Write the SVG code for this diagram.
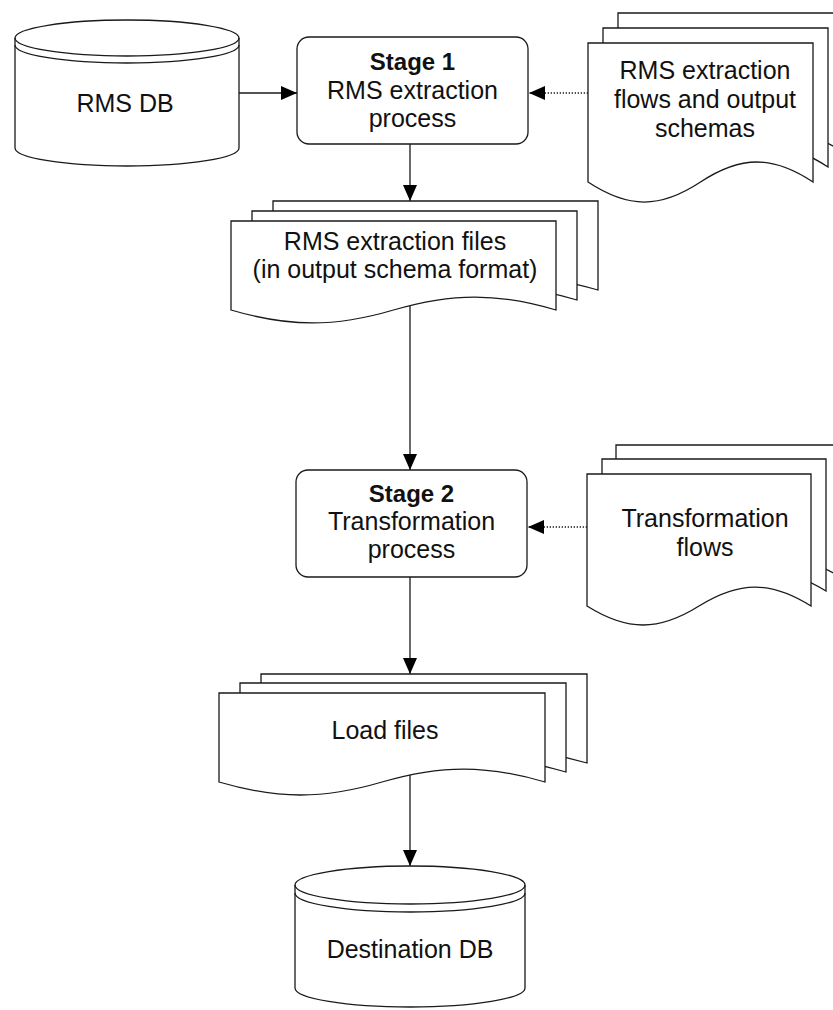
<svg xmlns="http://www.w3.org/2000/svg" xmlns:xlink="http://www.w3.org/1999/xlink" width="833" height="1010" viewBox="0 0 833 1010">
<style>
.shape{fill:#fff;stroke:#1a1a1a;stroke-width:1.3}
.line{fill:none;stroke:#1a1a1a;stroke-width:1.3}
.dot{fill:none;stroke:#1a1a1a;stroke-width:1.3;stroke-dasharray:1.3 1.7}
.t{font-family:"Liberation Sans",Arial,sans-serif;font-size:25px;fill:#111;text-anchor:middle}
.b{font-weight:bold;font-size:24px}
</style>
<defs>
<marker id="ah" markerWidth="16" markerHeight="14" refX="16" refY="7" orient="auto" markerUnits="userSpaceOnUse">
<path d="M0,0 L16,7 L0,14 Z" fill="#000"/>
</marker>
<path id="doc1" class="shape" d="M588,182 L588,43 L813,43 L813,182 C772.5,155.3 741,155.3 700.5,182 C660,208.7 628.5,208.7 588,182 Z"/>
<path id="doc2" class="shape" d="M231,310 L231,221 L556,221 L556,310 C497.5,292.7 452,292.7 393.5,310 C335,327.3 289.5,327.3 231,310 Z"/>
<path id="doc3" class="shape" d="M587,606 L587,474 L811,474 L811,606 C770.7,580.7 739.3,580.7 699,606 C658.7,631.3 627.3,631.3 587,606 Z"/>
<path id="doc4" class="shape" d="M219,782 L219,693 L545,693 L545,782 C486.3,764.7 440.7,764.7 382,782 C323.3,799.3 277.7,799.3 219,782 Z"/>
</defs>

<g id="connectors">
<line class="line" x1="239" y1="93" x2="297" y2="93" marker-end="url(#ah)"/>
<line class="dot" x1="588" y1="93" x2="529" y2="93" marker-end="url(#ah)"/>
<line class="line" x1="410" y1="144" x2="410" y2="201" marker-end="url(#ah)"/>
<line class="line" x1="410" y1="306" x2="410" y2="470" marker-end="url(#ah)"/>
<line class="dot" x1="587" y1="527" x2="528" y2="527" marker-end="url(#ah)"/>
<line class="line" x1="410" y1="577" x2="410" y2="674" marker-end="url(#ah)"/>
<line class="line" x1="410" y1="775" x2="410" y2="866" marker-end="url(#ah)"/>
</g>

<g id="rms-db">
<path class="shape" d="M15,38 A112,18 0 0 1 239,38 L239,148 A112,18 0 0 1 15,148 Z"/>
<path class="line" d="M15,38 A112,18 0 0 0 239,38"/>
<path class="line" d="M15,45 A112,18 0 0 0 239,45"/>
<text class="t" x="125" y="112">RMS DB</text>
</g>

<g id="stage1">
<rect class="shape" x="297" y="37" width="231" height="107" rx="12" ry="12"/>
<text class="t b" x="412.5" y="70">Stage 1</text>
<text class="t" x="412.5" y="99">RMS extraction</text>
<text class="t" x="412.5" y="127">process</text>
</g>

<g id="extraction-flows">
<use xlink:href="#doc1" transform="translate(30,-30)"/>
<use xlink:href="#doc1" transform="translate(15,-15)"/>
<use xlink:href="#doc1"/>
<text class="t" x="705" y="79">RMS extraction</text>
<text class="t" x="705" y="108">flows and output</text>
<text class="t" x="705" y="137">schemas</text>
</g>

<g id="extraction-files">
<use xlink:href="#doc2" transform="translate(42,-20)"/>
<use xlink:href="#doc2" transform="translate(21,-10)"/>
<use xlink:href="#doc2"/>
<text class="t" x="395" y="250">RMS extraction files</text>
<text class="t" x="395" y="278">(in output schema format)</text>
</g>

<g id="stage2">
<rect class="shape" x="296" y="470" width="231" height="107" rx="12" ry="12"/>
<text class="t b" x="411.5" y="502">Stage 2</text>
<text class="t" x="411.5" y="530">Transformation</text>
<text class="t" x="411.5" y="558">process</text>
</g>

<g id="transformation-flows">
<use xlink:href="#doc3" transform="translate(29,-29)"/>
<use xlink:href="#doc3" transform="translate(15,-15)"/>
<use xlink:href="#doc3"/>
<text class="t" x="705" y="527">Transformation</text>
<text class="t" x="705" y="556">flows</text>
</g>

<g id="load-files">
<use xlink:href="#doc4" transform="translate(42,-19)"/>
<use xlink:href="#doc4" transform="translate(21,-10)"/>
<use xlink:href="#doc4"/>
<text class="t" x="385" y="739">Load files</text>
</g>

<g id="destination-db">
<path class="shape" d="M295,885 A115,19 0 0 1 525,885 L525,988 A115,19 0 0 1 295,988 Z"/>
<path class="line" d="M295,885 A115,19 0 0 0 525,885"/>
<path class="line" d="M295,893 A115,19 0 0 0 525,893"/>
<text class="t" x="410" y="958">Destination DB</text>
</g>
</svg>
